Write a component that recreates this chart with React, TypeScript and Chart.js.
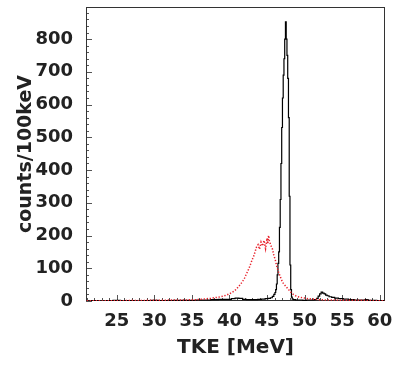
import React, { useEffect, useRef } from 'react';
import { Chart, registerables } from 'chart.js';

Chart.register(...registerables);

// Black histogram (TKE, counts per 100 keV)
const BLACK_E = [
  21.0, 22, 23, 24, 25, 26, 27, 28, 29, 30, 31, 32, 33, 34, 35, 36, 37, 38, 39, 40,
  40.5, 41, 41.5, 42, 42.5, 43, 43.5, 44, 44.5, 45, 45.3, 45.6, 45.8,
  46.0, 46.1, 46.2, 46.3, 46.4, 46.5, 46.6, 46.7, 46.8, 46.9,
  47.0, 47.1, 47.2, 47.3, 47.4, 47.5, 47.6, 47.7, 47.8, 47.9,
  48.0, 48.1, 48.2, 48.3, 48.4, 48.6, 49, 49.5, 50, 50.5, 51, 51.5,
  51.7, 51.9, 52.1, 52.3, 52.5, 52.7, 52.9, 53.1, 53.4, 53.8, 54.2, 54.8,
  55.5, 56.2, 57, 57.8, 58.3, 58.6, 59.2, 60, 60.7,
];
const BLACK_COUNTS = [
  0, 1, 0, 1, 2, 1, 1, 0, 1, 2, 1, 1, 2, 2, 2, 3, 3, 4, 5, 5,
  7, 9, 8, 5, 4, 4, 4, 5, 6, 7, 8, 10, 14,
  20, 26, 35, 52, 80, 115, 150, 225, 310, 420,
  530, 620, 690, 740, 800, 853, 800, 750, 680, 560,
  320, 110, 35, 12, 6, 4, 3, 3, 2, 3, 3, 4,
  8, 15, 22, 27, 24, 22, 18, 16, 13, 11, 9, 7,
  6, 4, 3, 3, 4, 2, 2, 1, 1,
];

// Red histogram
const RED_E = [
  21, 22, 23, 24, 25, 26, 27, 28, 29, 30, 31, 32, 33, 34, 35, 35.5, 36, 36.5, 37, 37.5,
  38, 38.4, 38.8, 39.2, 39.6, 40, 40.3, 40.6, 40.9, 41.2, 41.5, 41.8,
  42.0, 42.2, 42.4, 42.6, 42.8, 43.0, 43.2, 43.4, 43.6, 43.8,
  44.0, 44.2, 44.4, 44.6, 44.8, 45.0, 45.1, 45.2, 45.3, 45.5, 45.7, 45.9,
  46.1, 46.3, 46.5, 46.7, 46.9, 47.1, 47.3, 47.6, 47.9, 48.2, 48.5, 48.8, 49.1, 49.5,
  50, 50.5, 51, 51.5, 52, 53, 54, 55, 56, 57, 58, 59, 60, 60.7,
];
const RED_COUNTS = [
  1, 1, 0, 1, 1, 1, 2, 1, 2, 2, 2, 3, 3, 3, 4, 4, 5, 6, 7, 8,
  10, 11, 13, 15, 18, 22, 26, 30, 36, 44, 52, 62,
  70, 80, 90, 100, 112, 125, 135, 150, 165, 172,
  158, 180, 168, 185, 160, 192, 175, 200, 185, 170, 160, 140,
  125, 105, 90, 78, 66, 56, 50, 42, 34, 26, 20, 16, 13, 11,
  9, 7, 6, 5, 4, 3, 3, 2, 2, 2, 2, 1, 1, 1,
];

const X_TICKS = [25, 30, 35, 40, 45, 50, 55, 60];
const Y_TICKS = [0, 100, 200, 300, 400, 500, 600, 700, 800];
const X_MIN = 20.9;
const X_MAX = 60.7;
const Y_MIN = 0;
const Y_MAX = 898;

const FONT = 'DejaVu Sans';
const TEXT = '#222';

const framePlugin = {
  id: 'frame',
  beforeDatasetsDraw(chart: any) {
    const { ctx, chartArea, scales } = chart;
    const { left, right, top, bottom } = chartArea;
    const x = scales.x;
    const y = scales.y;
    ctx.save();
    ctx.strokeStyle = '#555';
    ctx.lineWidth = 1;
    ctx.beginPath();
    for (let v = Y_MIN; v <= Y_MAX; v += 20) {
      const py = Math.round(y.getPixelForValue(v)) + 0.5;
      const len = v % 100 === 0 ? 6 : 3;
      ctx.moveTo(left, py);
      ctx.lineTo(left + len, py);
    }
    for (let v = Math.ceil(X_MIN); v <= X_MAX; v += 1) {
      const px = Math.round(x.getPixelForValue(v)) + 0.5;
      const len = v % 5 === 0 ? 6 : 3;
      ctx.moveTo(px, bottom);
      ctx.lineTo(px, bottom - len);
    }
    ctx.stroke();
    ctx.strokeStyle = '#333';
    ctx.strokeRect(left + 0.5, top + 0.5, right - left - 1, bottom - top - 1);
    ctx.restore();
  },
};

export default function App() {
  const ref = useRef<HTMLCanvasElement | null>(null);
  useEffect(() => {
    if (!ref.current) return;
    const chart = new Chart(ref.current, {
      type: 'line',
      data: {
        datasets: [
          {
            label: 'red',
            data: RED_E.map((e, i) => ({ x: e, y: RED_COUNTS[i] })),
            borderColor: '#e8202a',
            borderWidth: 1.5,
            borderDash: [1.3, 1.7],
            pointRadius: 0,
            fill: false,
            tension: 0,
          },
          {
            label: 'black',
            data: BLACK_E.map((e, i) => ({ x: e, y: BLACK_COUNTS[i] })),
            borderColor: '#000',
            borderWidth: 1.2,
            pointRadius: 0,
            stepped: 'middle',
            fill: false,
          },
        ],
      },
      options: {
        animation: false,
        responsive: false,
        layout: { padding: { left: 0, right: 15, top: 7, bottom: 0 } },
        plugins: { legend: { display: false }, tooltip: { enabled: false } },
        scales: {
          x: {
            type: 'linear',
            min: X_MIN,
            max: X_MAX,
            grid: { display: false },
            border: { display: false },
            afterBuildTicks: (s: any) => {
              s.ticks = X_TICKS.map((v) => ({ value: v }));
            },
            afterFit: (s: any) => {
              s.height = 64;
              s.paddingLeft = 0;
              s.paddingRight = 0;
            },
            ticks: {
              autoSkip: false,
              maxRotation: 0,
              padding: 2,
              color: TEXT,
              font: { family: FONT, size: 18, weight: 'bold' },
            },
            title: {
              display: true,
              text: 'TKE [MeV]',
              color: TEXT,
              font: { family: FONT, size: 20, weight: 'bold' },
              padding: { top: 0, bottom: 5 },
            },
          },
          y: {
            type: 'linear',
            min: Y_MIN,
            max: Y_MAX,
            grid: { display: false },
            border: { display: false },
            afterBuildTicks: (s: any) => {
              s.ticks = Y_TICKS.map((v) => ({ value: v }));
            },
            afterFit: (s: any) => {
              s.width = 86;
              s.paddingTop = 0;
              s.paddingBottom = 0;
            },
            ticks: {
              autoSkip: false,
              padding: 5,
              color: TEXT,
              font: { family: FONT, size: 18, weight: 'bold' },
            },
            title: {
              display: true,
              text: 'counts/100keV',
              color: TEXT,
              font: { family: FONT, size: 19, weight: 'bold' },
              padding: { top: 15, bottom: 0 },
            },
          },
        },
      },
      plugins: [framePlugin],
    });
    return () => chart.destroy();
  }, []);
  return (
    <div style={{ position: 'absolute', left: 0, top: 0, width: 400, height: 365, background: '#fff' }}>
      <canvas ref={ref} width={400} height={365} />
    </div>
  );
}
